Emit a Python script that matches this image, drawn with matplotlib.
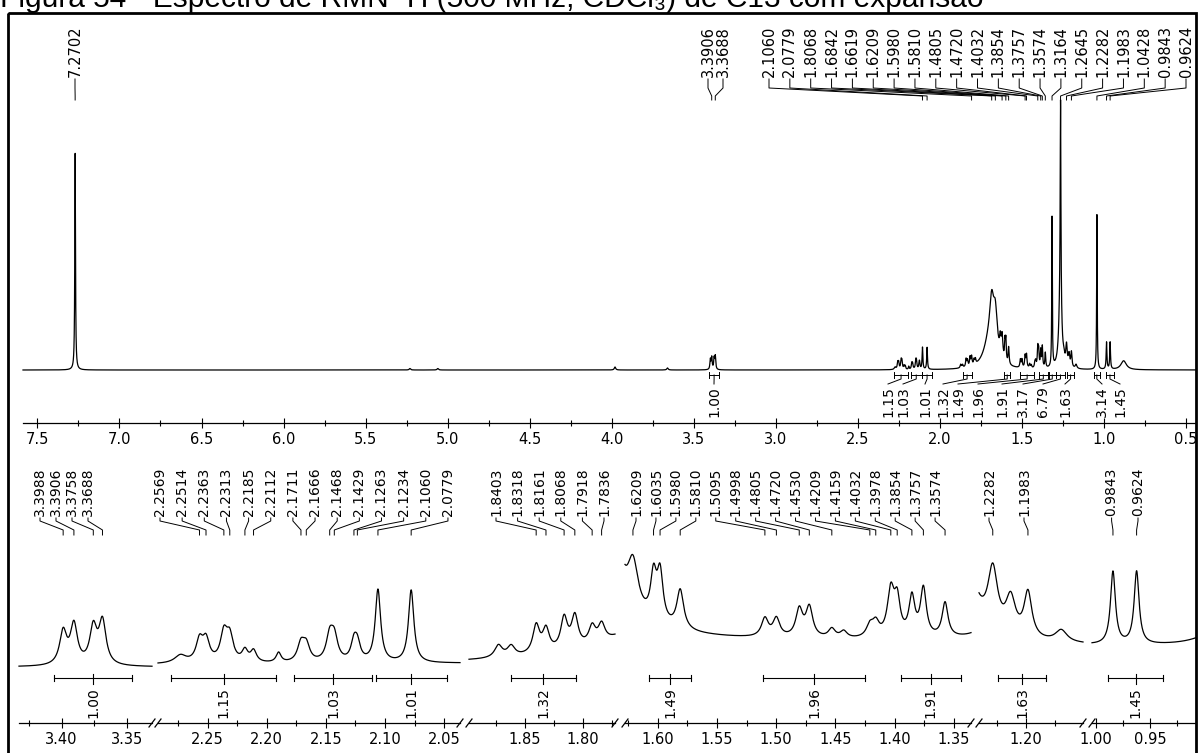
import numpy as np
import matplotlib.pyplot as plt
from matplotlib.ticker import MultipleLocator, FormatStrFormatter
from matplotlib.patches import Rectangle

plt.rcParams['font.family'] = ['DejaVu Sans']
plt.rcParams['font.size'] = 10

W, H = 1200, 753
title = 'Figura 54 - Espectro de RMN ¹H (500 MHz, CDCl₃) de C13 com expansão'

# line list: shift (ppm), height, full width at half height (ppm)
shift = [7.2702, 5.23, 5.06, 3.98, 3.66,
         3.3988, 3.3906, 3.3758, 3.3688,
         2.273, 2.2569, 2.2514, 2.2363, 2.2313, 2.2185, 2.2112, 2.190,
         2.1711, 2.1666, 2.1468, 2.1429, 2.1263, 2.1234, 2.1060, 2.0779,
         1.873, 1.862, 1.8403, 1.8318, 1.8161, 1.8068, 1.7918, 1.7836,
         1.700, 1.6842, 1.6619, 1.632,
         1.6209, 1.6035, 1.5980, 1.5810, 1.5095, 1.4998, 1.4805, 1.4720,
         1.4530, 1.443, 1.4209, 1.4159, 1.4032, 1.3978, 1.3854, 1.3757, 1.3574,
         1.3164, 1.2645, 1.266, 1.245, 1.2282, 1.213, 1.1983, 1.170,
         1.0428, 0.9843, 0.9624, 0.880]
height = [217, 1.5, 1.5, 3, 2,
          10, 12, 11, 13,
          2.4, 6.5, 6.5, 8.5, 7.5, 3.5, 3.5, 3.0,
          5.5, 5.0, 7.5, 7.0, 5.5, 5.0, 22, 22,
          3.5, 3.0, 8, 6.5, 9, 9, 5, 5,
          25, 45, 42, 16,
          22, 19, 21, 17, 8, 8, 12, 13,
          4, 3, 5, 6, 20, 15, 17, 21, 15,
          150, 200, 70, 5, 20, 12, 15, 4,
          155, 27, 27, 9]
width = [0.005, 0.01, 0.01, 0.01, 0.01,
         0.0065, 0.0065, 0.0065, 0.0065,
         0.012, 0.007, 0.007, 0.007, 0.007, 0.006, 0.006, 0.005,
         0.007, 0.007, 0.007, 0.007, 0.006, 0.006, 0.0055, 0.0055,
         0.008, 0.008, 0.007, 0.007, 0.007, 0.007, 0.007, 0.007,
         0.08, 0.03, 0.03, 0.01,
         0.011, 0.006, 0.006, 0.007, 0.007, 0.007, 0.007, 0.007,
         0.007, 0.007, 0.007, 0.007, 0.007, 0.006, 0.006, 0.006, 0.006,
         0.004, 0.005, 0.02, 0.012, 0.01, 0.01, 0.008, 0.012,
         0.004, 0.0055, 0.0055, 0.04]

# labelled peaks, full spectrum
top_peaks = [7.2702, 3.3906, 3.3688,
             2.1060, 2.0779, 1.8068, 1.6842, 1.6619, 1.6209, 1.5980, 1.5810,
             1.4805, 1.4720, 1.4032, 1.3854, 1.3757, 1.3574, 1.3164, 1.2645,
             1.2282, 1.1983, 1.0428, 0.9843, 0.9624]

# labelled peaks, one list per expansion
exp_peaks = [[3.3988, 3.3906, 3.3758, 3.3688],
             [2.2569, 2.2514, 2.2363, 2.2313, 2.2185, 2.2112, 2.1711, 2.1666,
              2.1468, 2.1429, 2.1263, 2.1234, 2.1060, 2.0779],
             [1.8403, 1.8318, 1.8161, 1.8068, 1.7918, 1.7836],
             [1.6209, 1.6035, 1.5980, 1.5810, 1.5095, 1.4998, 1.4805, 1.4720,
              1.4530, 1.4209, 1.4159, 1.4032, 1.3978, 1.3854, 1.3757, 1.3574],
             [1.2282, 1.1983],
             [0.9843, 0.9624]]

# integrals: value, start and end (ppm)
int_value = [1.00, 1.15, 1.03, 1.01, 1.32, 1.49, 1.96, 1.91, 3.17, 6.79, 1.63, 3.14, 1.45]
int_from = [3.406, 2.281, 2.177, 2.108, 1.862, 1.607, 1.511, 1.395, 1.335, 1.295, 1.2241, 1.062, 0.9892]
int_to = [3.346, 2.192, 2.111, 2.048, 1.806, 1.572, 1.425, 1.344, 1.295, 1.235, 1.1827, 1.025, 0.9375]


def spectrum(ppm):
    c = np.asarray(shift)[None, :]
    a = np.asarray(height)[None, :]
    hw = np.asarray(width)[None, :] / 2
    d = ppm[:, None] - c
    return (a * hw ** 2 / (d ** 2 + hw ** 2)).sum(axis=1)


def box(x0, y0, x1, y1):
    return [x0 / W, 1 - y1 / H, (x1 - x0) / W, (y1 - y0) / H]


def style_axis(ax):
    for s in ('top', 'left', 'right'):
        ax.spines[s].set_visible(False)
    ax.spines['bottom'].set_linewidth(0.9)
    ax.set_yticks([])
    ax.set_facecolor('none')
    ax.tick_params(axis='x', which='major', direction='inout', length=7, width=0.8,
                   labelsize=10.5, pad=3)
    ax.tick_params(axis='x', which='minor', direction='inout', length=5, width=0.8)


fig = plt.figure(figsize=(12, 7.53), dpi=100)

# overlay in pixel units for labels and frame
ov = fig.add_axes([0, 0, 1, 1])
ov.set_xlim(0, W)
ov.set_ylim(H, 0)
ov.axis('off')

ov.add_patch(Rectangle((8, 13), 1188, 760, fill=False, lw=2, color='k', clip_on=False))
fig.text(0, 1 - 7 / H, title, fontsize=21.5, family='Liberation Sans',
         ha='left', va='baseline')

# full spectrum
ax = fig.add_axes(box(23, 15, 1196, 423))
style_axis(ax)
ax.set_xlim(7.588, 0.439)
ax.set_ylim(-53, 355)
ax.xaxis.set_major_locator(MultipleLocator(0.5))
ax.xaxis.set_minor_locator(MultipleLocator(0.25))
ax.xaxis.set_major_formatter(FormatStrFormatter('%.1f'))
grid = np.linspace(7.588, 0.439, 30000)
ax.plot(grid, spectrum(grid), color='k', lw=0.9, clip_on=False)


def xpix(a, ppm):
    disp = a.transData.transform((ppm, 0))
    return ov.transData.inverted().transform(disp)[0]


def peak_labels(a, peaks, xs, y_text, y_stem, y_bend, y_tip, size):
    for p, xl in zip(peaks, xs):
        xp = xpix(a, p)
        ov.text(xl, y_text, f'{p:.4f}', rotation=90, ha='center', va='bottom', fontsize=size)
        ov.plot([xl, xl, xp, xp], [y_text + 2, y_stem, y_bend, y_tip], color='k', lw=0.7)


top_x = [75, 708, 723] + [769 + 20.85 * i for i in range(21)]
peak_labels(ax, top_peaks, top_x, 77, 88, 96, 100, 10.5)

# integrals under the full spectrum
main_int_x = [714, 888, 903, 925, 943, 958, 978, 1002, 1023, 1043, 1065, 1102, 1120]
for v, a0, a1, xl in zip(int_value, int_from, int_to, main_int_x):
    xa, xb = xpix(ax, a0), xpix(ax, a1)
    xc = (xa + xb) / 2
    ov.plot([xa, xb], [375, 375], color='k', lw=0.7)
    ov.plot([xa, xa], [372, 378], color='k', lw=0.7)
    ov.plot([xb, xb], [372, 378], color='k', lw=0.7)
    ov.plot([xc, xc, xl], [375, 379, 384], color='k', lw=0.7)
    ov.text(xl, 386, f'{v:.2f}', rotation=90, ha='center', va='top', fontsize=10)

# expansions
seg_px = [(19, 152), (158, 460), (469, 615), (625, 971), (979, 1083), (1092, 1196)]
seg_ppm = [(3.4325, 3.331), (2.292, 2.0366), (1.8985, 1.772),
           (1.6276, 1.3355), (1.2399, 1.1515), (1.0037, 0.9074)]
seg_base = [667, 665, 665, 643, 647, 647]
seg_gain = [3.3, 3.3, 3.5, 2.3, 3.0, 2.7]
seg_label_x = [(40, 16), (160, 22.15), (496, 21.6), (636, 19.94), (989, 35), (1111.6, 26.4)]
y_top, y_axis = 540, 723

for i, ((x0, x1), (p0, p1)) in enumerate(zip(seg_px, seg_ppm)):
    sa = fig.add_axes(box(x0, y_top, x1, y_axis))
    style_axis(sa)
    sa.set_xlim(p0, p1)
    g, b = seg_gain[i], seg_base[i]
    sa.set_ylim(-(y_axis - b) / g, (b - y_top) / g)
    sa.xaxis.set_major_locator(MultipleLocator(0.05))
    sa.xaxis.set_minor_locator(MultipleLocator(0.025))
    sa.xaxis.set_major_formatter(FormatStrFormatter('%.2f'))
    xs = np.linspace(p0, p1, 3000)
    sa.plot(xs, spectrum(xs), color='k', lw=0.9, clip_on=False)

    # axis break marks
    if i > 0:
        ov.plot([x0 - 3, x0 + 3], [y_axis + 4, y_axis - 4], color='k', lw=0.9)
    if i < len(seg_px) - 1:
        ov.plot([x1 - 3, x1 + 3], [y_axis + 4, y_axis - 4], color='k', lw=0.9)

    lx0, step = seg_label_x[i]
    lxs = [lx0 + step * k for k in range(len(exp_peaks[i]))]
    peak_labels(sa, exp_peaks[i], lxs, 516, 521, 530, 535, 10)

    for v, a0, a1 in zip(int_value, int_from, int_to):
        if a0 <= p0 and a1 >= p1:
            xa, xb = xpix(sa, a0), xpix(sa, a1)
            xc = (xa + xb) / 2
            ov.plot([xa, xb], [678, 678], color='k', lw=0.8)
            ov.plot([xa, xa], [675, 681], color='k', lw=0.8)
            ov.plot([xb, xb], [675, 681], color='k', lw=0.8)
            ov.plot([xc, xc], [674, 684], color='k', lw=0.8)
            ov.text(xc, 687, f'{v:.2f}', rotation=90, ha='center', va='top', fontsize=10)

fig.savefig('out.png', dpi=100)
